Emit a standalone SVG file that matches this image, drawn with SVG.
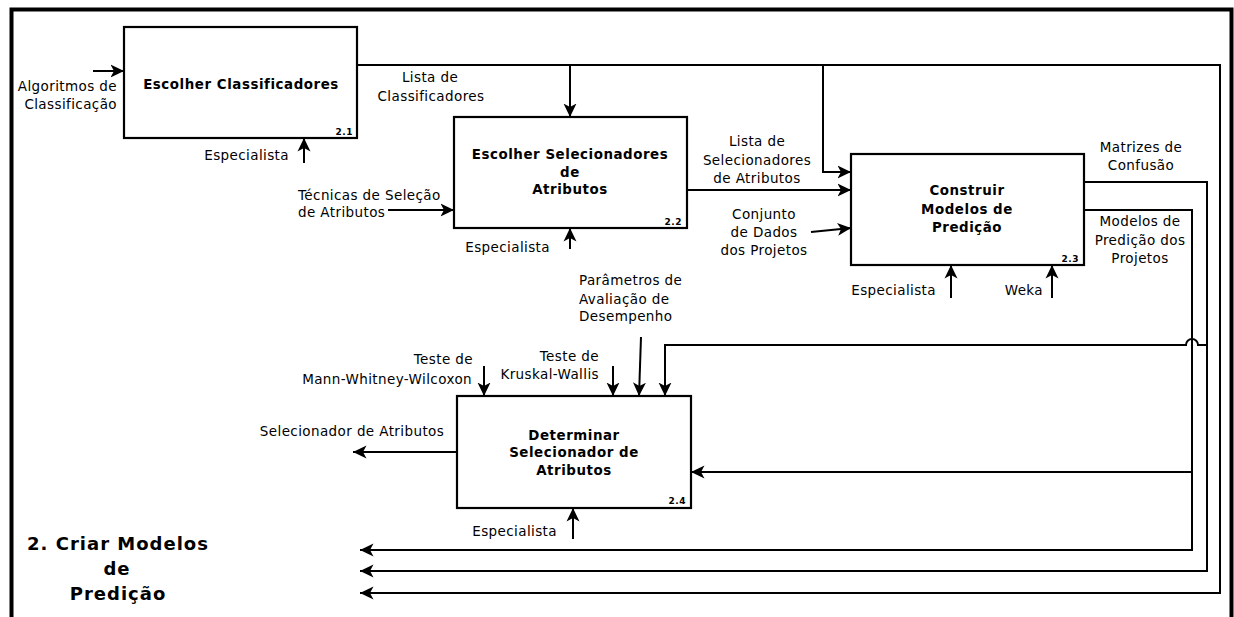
<svg xmlns="http://www.w3.org/2000/svg" width="1234" height="617" viewBox="0 0 1234 617">
<style>
text{font-family:"DejaVu Sans","Liberation Sans",sans-serif;fill:#000}
.t{font-size:13.5px;letter-spacing:0.4px}
.b{font-size:13.4px;font-weight:bold;text-anchor:middle;letter-spacing:0.55px}
.n{font-size:9px;font-weight:bold;text-anchor:end;letter-spacing:0.5px}
.box{fill:#fff;stroke:#000;stroke-width:2.2}
.c{fill:none;stroke:#000;stroke-width:2;marker-end:url(#ah)}
.l{fill:none;stroke:#000;stroke-width:2}
.m{text-anchor:middle}
.e{text-anchor:end}
</style>
<defs>
<marker id="ah" markerUnits="userSpaceOnUse" markerWidth="15" markerHeight="15" refX="13.5" refY="7" orient="auto">
<path d="M0,0.5 L13.5,7 L0,13.5 L3.5,7 Z" fill="#000"/>
</marker>
</defs>
<g id="frame">
<path d="M11.5,617 V9.5 H1231.5 V617" fill="none" stroke="#000" stroke-width="4"/>
</g>
<g id="connectors">
<path class="c" d="M357,65 H1220 V593 H360"/>
<path class="c" d="M570,65 V117"/>
<path class="c" d="M823,65 V172 H851"/>
<path class="c" d="M687,190 H851"/>
<path class="c" d="M811,232 L851,228"/>
<path class="c" d="M1084,182 H1207 V571 H360"/>
<path class="c" d="M1207,345 H1198 A6,6 0 0 0 1186,345 H665 V396"/>
<path class="c" d="M1084,210 H1192 V550 H360"/>
<path class="c" d="M1192,472 H691"/>
<path class="c" d="M457,452 H353"/>
<path class="c" d="M93,71 H124"/>
<path class="c" d="M304,163 V138"/>
<path class="c" d="M388,210 H454"/>
<path class="c" d="M570,249 V228"/>
<path class="c" d="M951,298 V265"/>
<path class="c" d="M1052,298 V265"/>
<path class="c" d="M484,366 V396"/>
<path class="c" d="M613,366 V396"/>
<path class="c" d="M641,337 L639,396"/>
<path class="c" d="M573,539 V508"/>
</g>
<g id="node21">
<rect class="box" x="124" y="27" width="233" height="111"/>
<text class="b" x="241" y="89">Escolher Classificadores</text>
<text class="n" x="353" y="135">2.1</text>
</g>
<g id="node22">
<rect class="box" x="454" y="117" width="233" height="111"/>
<text class="b" x="570" y="158.5">Escolher Selecionadores</text>
<text class="b" x="570" y="176.5">de</text>
<text class="b" x="570" y="194">Atributos</text>
<text class="n" x="682" y="224.5">2.2</text>
</g>
<g id="node23">
<rect class="box" x="851" y="154" width="233" height="111"/>
<text class="b" x="967" y="195">Construir</text>
<text class="b" x="967" y="213.5">Modelos de</text>
<text class="b" x="967" y="232">Predição</text>
<text class="n" x="1079" y="261.5">2.3</text>
</g>
<g id="node24">
<rect class="box" x="457" y="396" width="234" height="112"/>
<text class="b" x="574" y="439.5">Determinar</text>
<text class="b" x="574" y="457">Selecionador de</text>
<text class="b" x="574" y="475">Atributos</text>
<text class="n" x="686" y="503.5">2.4</text>
</g>
<g id="labels">
<text class="t e" x="117" y="91">Algoritmos de</text>
<text class="t e" x="117" y="109">Classificação</text>
<text class="t e" x="289" y="160">Especialista</text>
<text class="t m" x="430" y="82">Lista de</text>
<text class="t m" x="431" y="100.5">Classificadores</text>
<text class="t" x="298" y="199.5">Técnicas de Seleção</text>
<text class="t" x="298" y="217">de Atributos</text>
<text class="t e" x="550" y="251.5">Especialista</text>
<text class="t m" x="757" y="146">Lista de</text>
<text class="t m" x="757" y="165">Selecionadores</text>
<text class="t m" x="757" y="183">de Atributos</text>
<text class="t m" x="764" y="218.5">Conjunto</text>
<text class="t m" x="764" y="237">de Dados</text>
<text class="t m" x="764" y="255">dos Projetos</text>
<text class="t e" x="936" y="295">Especialista</text>
<text class="t e" x="1043" y="295">Weka</text>
<text class="t m" x="1141" y="152">Matrizes de</text>
<text class="t m" x="1141" y="170">Confusão</text>
<text class="t m" x="1140" y="226">Modelos de</text>
<text class="t m" x="1140" y="244.5">Predição dos</text>
<text class="t m" x="1140" y="262.5">Projetos</text>
<text class="t" x="579" y="285">Parâmetros de</text>
<text class="t" x="579" y="303.5">Avaliação de</text>
<text class="t" x="579" y="321">Desempenho</text>
<text class="t e" x="473" y="364">Teste de</text>
<text class="t e" x="472" y="384">Mann-Whitney-Wilcoxon</text>
<text class="t e" x="599" y="360.5">Teste de</text>
<text class="t e" x="599" y="378.5">Kruskal-Wallis</text>
<text class="t m" x="352" y="436">Selecionador de Atributos</text>
<text class="t e" x="557" y="536">Especialista</text>
</g>
<g id="title">
<text x="118" y="550" font-size="18" font-weight="bold" text-anchor="middle" letter-spacing="1">2. Criar Modelos</text>
<text x="117" y="575" font-size="18" font-weight="bold" text-anchor="middle" letter-spacing="1">de</text>
<text x="118" y="600" font-size="18" font-weight="bold" text-anchor="middle" letter-spacing="1">Predição</text>
</g>
</svg>
